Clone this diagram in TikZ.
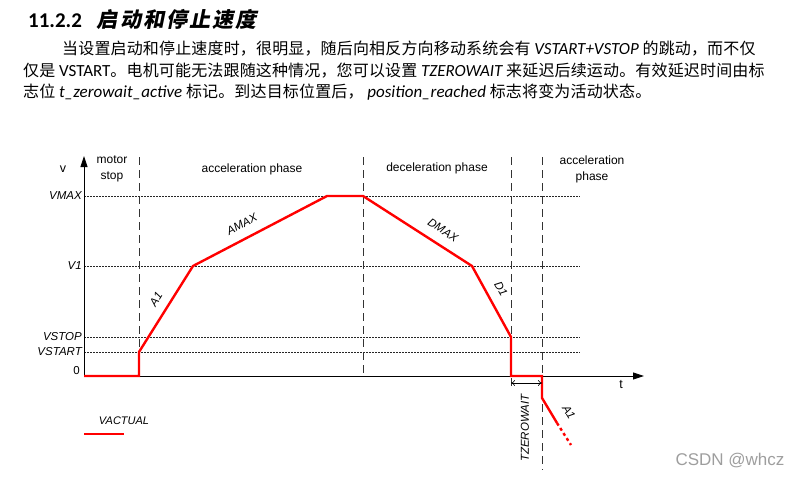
\documentclass[tikz,border=0pt]{standalone}
\usepackage{fontspec}
\setmainfont{Liberation Sans}
\newfontfamily\cjk{Noto Sans CJK SC}[LetterSpace=1]
\newfontfamily\cjkhead{Noto Sans CJK SC}[FakeSlant=0.2,LetterSpace=10]
\newfontfamily\calib{Carlito}
\usepackage{tikz}
\usetikzlibrary{positioning,arrows.meta}
\tikzstyle{axis}=[->, >={Triangle[length=11pt,width=7pt]}, line width=0.9pt]
\tikzstyle{phaseline}=[draw=black!80, line width=0.9pt, dash pattern=on 8pt off 5pt]
\tikzstyle{speedline}=[draw=black!85, line width=0.5pt, dash pattern=on 2pt off 1pt]
\tikzstyle{profile}=[draw=red, line width=2.4pt]
\tikzstyle{waitarrow}=[<->, >={To[length=4pt,width=6pt]}, line width=0.6pt]
\tikzstyle{vlabel}=[anchor=east, inner sep=1pt, font=\fontsize{11.5}{13}\selectfont\itshape]
\tikzstyle{phase}=[align=center, font=\fontsize{12}{16}\selectfont]
\tikzstyle{slope}=[inner sep=1pt, font=\fontsize{11.5}{13}\selectfont\itshape]
\tikzstyle{textline}=[anchor=base west, inner sep=0pt, font=\fontsize{16}{20}\selectfont]
\newcommand{\enword}[1]{{\calib\fontsize{17}{20}\selectfont #1}}

\begin{document}
\begin{tikzpicture}[x=1pt, y=-1pt]
\useasboundingbox (0,0) rectangle (803,477);

% heading and paragraph
\node[textline] (head) at (28,27)
    {{\calib\fontsize{21}{24}\selectfont\bfseries 11.2.2}\hspace{15pt}{\cjkhead\fontsize{21}{24}\selectfont\bfseries 启动和停止速度}};
\node[textline] (line1) at (62,54)
    {\cjk 当设置启动和停止速度时，很明显，随后向相反方向移动系统会有 \enword{\itshape VSTART+VSTOP} \cjk 的跳动，而不仅};
\node[textline] (line2) at (23,76)
    {\cjk 仅是 \enword{VSTART}\cjk 。电机可能无法跟随这种情况，您可以设置 \enword{\itshape TZEROWAIT} \cjk 来延迟后续运动。有效延迟时间由标};
\node[textline] (line3) at (23,97)
    {\cjk 志位 \enword{\itshape t\_zerowait\_active} \cjk 标记。到达目标位置后， \enword{\itshape position\_reached} \cjk 标志将变为活动状态。};

% speed levels
\node[vlabel] (vmax) at (83,196) {VMAX};
\node[vlabel] (vone) at (83,266) {V1};
\node[vlabel] (vstop) at (83,337) {VSTOP};
\node[vlabel] (vstart) at (83,352) {VSTART};
\node[vlabel, font=\fontsize{11.5}{13}\selectfont] (zero) at (81,371) {0};
\draw[speedline] (84,196) -- (580,196);
\draw[speedline] (84,266) -- (580,266);
\draw[speedline] (84,337) -- (580,337);
\draw[speedline] (84,352) -- (580,352);

% phase borders
\draw[phaseline] (139,157) -- (139,376);
\draw[phaseline] (363,157) -- (363,376);
\draw[phaseline] (511,157) -- (511,390);
\draw[phaseline] (542,157) -- (542,470);

% axes
\coordinate (O) at (84,376);
\coordinate (ytop) at (84,156);
\coordinate (xend) at (644,376);
\draw[axis] (O) -- (ytop);
\draw[axis] (O) -- (xend);
\node[font=\fontsize{12.5}{14}\selectfont] (vaxis) at (63,169) {v};
\node[font=\fontsize{12.5}{14}\selectfont] (taxis) at (621,385) {t};

% phase labels
\node[phase] (stop) at (112,169) {motor\\stop};
\node[phase] (accel) at (252,169) {acceleration phase};
\node[phase] (decel) at (437,168) {deceleration phase};
\node[phase] (accelnext) at (592,169) {acceleration\\phase};

% velocity profile
\coordinate (p0) at (84,376);
\coordinate (p1) at (139,376);
\coordinate (p2) at (139,352);
\coordinate (p3) at (193,266);
\coordinate (p4) at (327,196);
\coordinate (p5) at (363,196);
\coordinate (p6) at (472,266);
\coordinate (p7) at (511,337);
\coordinate (p8) at (511,376);
\coordinate (p9) at (542,376);
\coordinate (p10) at (542,398);
\coordinate (p11) at (557,423);
\coordinate (p12) at (571,445);
\draw[profile] (p0) -- (p1) -- (p2) -- (p3) -- (p4) -- (p5) -- (p6) -- (p7) -- (p8) -- (p9) -- (p10) -- (p11);
\draw[profile, dash pattern=on 3pt off 3pt] (p11) -- (p12);

% slope labels
\node[slope, rotate=58] (aone) at (156,299) {A1};
\node[slope, rotate=28] (amax) at (242,224) {AMAX};
\node[slope, rotate=-33] (dmax) at (443,230) {DMAX};
\node[slope, rotate=-61] (done) at (501,289) {D1};
\node[slope, rotate=-59] (anext) at (569,412) {A1};

% zero wait
\coordinate (w0) at (511,383);
\coordinate (w1) at (542,383);
\draw[waitarrow] (w0) -- (w1);
\node[slope, rotate=90] (tzero) at (525,428) {TZEROWAIT};

% legend
\node[slope, font=\fontsize{11}{13}\selectfont\itshape] (vactual) at (124,421) {VACTUAL};
\coordinate (l0) at (84,434);
\coordinate (l1) at (124,434);
\draw[profile] (l0) -- (l1);

\node[text=black!38, font=\fontsize{17}{20}\selectfont] (mark) at (730,461) {CSDN @whcz};
\end{tikzpicture}
\end{document}
